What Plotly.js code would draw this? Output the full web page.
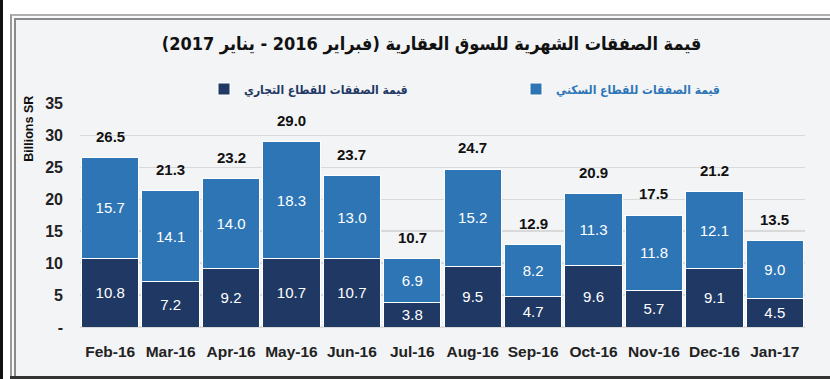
<!DOCTYPE html>
<html>
<head>
<meta charset="utf-8">
<script src="https://cdn.plot.ly/plotly-3.0.1.min.js"></script>
<style>
html,body{margin:0;padding:0;background:#ffffff;}
#wrap{position:relative;width:830px;height:379px;overflow:hidden;background:#ffffff;}
#strip{position:absolute;left:0;top:0;width:3px;height:379px;background:#111;}
#outer{position:absolute;left:10px;top:14px;width:830px;height:370px;border-left:2px solid #9a9a9a;border-top:2px solid #b0b0b0;background:#fafafa;}
#inner{position:absolute;left:14px;top:18px;width:830px;height:370px;border-left:2px solid #8a8a8a;border-top:2px solid #8a8a8a;background:#f3f4f6;}
#bottom{position:absolute;left:10px;top:376px;width:830px;height:3px;background:#333;}
#chart{position:absolute;left:0;top:0;width:830px;height:379px;}
</style>
</head>
<body>
<div id="wrap">
  <div id="strip"></div>
  <div id="outer"></div>
  <div id="inner"></div>
  <div id="bottom"></div>
  <div id="chart"></div>
</div>
<script>
const months = ["Feb-16","Mar-16","Apr-16","May-16","Jun-16","Jul-16","Aug-16","Sep-16","Oct-16","Nov-16","Dec-16","Jan-17"];
const commercial = [10.8,7.2,9.2,10.7,10.7,3.8,9.5,4.7,9.6,5.7,9.1,4.5];
const residential = [15.7,14.1,14.0,18.3,13.0,6.9,15.2,8.2,11.3,11.8,12.1,9.0];
const totals = [26.5,21.3,23.2,29.0,23.7,10.7,24.7,12.9,20.9,17.5,21.2,13.5];
const yTickVals = [0,5,10,15,20,25,30,35];
const yTickText = ["-","5","10","15","20","25","30","35"];
const titleText = "قيمة الصفقات الشهرية للسوق العقارية (فبراير 2016 - يناير 2017)";
const nameCommercial = "قيمة الصفقات للقطاع التجاري";
const nameResidential = "قيمة الصفقات للقطاع السكني";

const numFont = "Liberation Sans Narrow, Liberation Sans, Arial, sans-serif";
const arFont = "DejaVu Sans Condensed, DejaVu Sans, sans-serif";

const traces = [
  {
    type: "bar", x: months, y: commercial, name: nameCommercial,
    marker: {color: "#1f3864", line: {color: "#ffffff", width: 1}},
    texttemplate: "%{y:.1f}", textposition: "inside", insidetextanchor: "middle",
    textfont: {color: "#ffffff", size: 15, family: numFont},
    hoverinfo: "none"
  },
  {
    type: "bar", x: months, y: residential, name: nameResidential,
    marker: {color: "#2e75b6", line: {color: "#ffffff", width: 1}},
    texttemplate: "%{y:.1f}", textposition: "inside", insidetextanchor: "middle",
    textfont: {color: "#ffffff", size: 15, family: numFont},
    hoverinfo: "none"
  }
];

const annotations = months.map((m, i) => ({
  x: m, y: totals[i], xref: "x", yref: "y",
  text: totals[i].toFixed(1), showarrow: false,
  yanchor: "bottom", yshift: 11,
  font: {family: numFont, size: 15, color: "#111111", weight: "bold"}
}));
annotations.push({
  text: "Billions SR", showarrow: false, textangle: -90,
  xref: "paper", yref: "paper", x: -0.07, y: 1.045, xanchor: "center", yanchor: "top",
  font: {family: "Liberation Sans, sans-serif", size: 12.5, color: "#111", weight: "bold"}
});

const layout = {
  width: 830, height: 379,
  margin: {l: 80, r: 25, t: 103, b: 52},
  paper_bgcolor: "rgba(0,0,0,0)",
  plot_bgcolor: "rgba(0,0,0,0)",
  barmode: "stack",
  bargap: 0.05,
  title: {
    text: titleText, x: 0.52, xanchor: "center", xref: "container",
    y: 1 - 44/379, yanchor: "middle", yref: "container",
    font: {family: arFont, size: 18, color: "#111111", weight: "bold"}
  },
  showlegend: true,
  legend: {
    orientation: "h", xref: "container", yref: "container", traceorder: "normal",
    x: 204/830, xanchor: "left", y: 1 - 89/379, yanchor: "middle",
    entrywidth: 267, entrywidthmode: "pixels",
    font: {family: arFont, size: 12, color: "#1f3864", weight: "bold"},
    bgcolor: "rgba(0,0,0,0)"
  },
  xaxis: {
    type: "category", showgrid: false, zeroline: false, showline: false,
    ticks: "", tickfont: {family: numFont, size: 15.5, color: "#222", weight: "bold"},
    ticklabelstandoff: 13
  },
  yaxis: {
    range: [0, 35], tickvals: yTickVals, ticktext: yTickText,
    showgrid: true, gridcolor: "#d9d9d9", gridwidth: 1.5,
    zeroline: true, zerolinecolor: "#d9d9d9", zerolinewidth: 1.5,
    showline: false, ticks: "",
    tickfont: {family: numFont, size: 16, color: "#222", weight: "bold"},
    ticklabelstandoff: 16
  },
  annotations: annotations,
  uniformtext: {mode: false}
};

Plotly.newPlot("chart", traces, layout, {displayModeBar: false, staticPlot: true}).then(() => {
  document.querySelectorAll("#chart .legend .legendtext").forEach(t => {
    if (t.textContent === nameResidential) t.style.fill = "#2e75b6";
    else t.style.fill = "#1f3864";
  });
});
</script>
</body>
</html>
